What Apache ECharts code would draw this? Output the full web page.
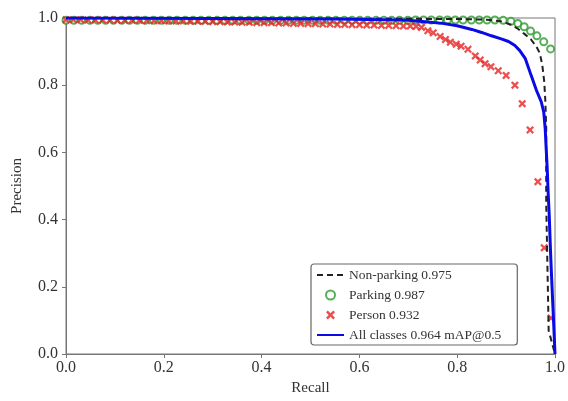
<!DOCTYPE html>
<html>
<head>
    <meta charset="utf-8" />
    <title>PR curve</title>
    <style>
        html, body { margin: 0; padding: 0; background: #fff; }
        #main { width: 568px; height: 401px; }
    </style>
</head>
<body>
<div id="main"></div>
<script src="https://cdn.jsdelivr.net/npm/echarts@6/dist/echarts.min.js"></script>
<script>
    // tick labels of both axes
    var ticks = [0.0, 0.2, 0.4, 0.6, 0.8, 1.0];
    var legendNames = ['Non-parking 0.975', 'Parking 0.987', 'Person 0.932', 'All classes 0.964 mAP@0.5'];

    // Non-parking (dashed black)
    var nonParkingRecall    = [0, 0.3, 0.6, 0.8, 0.86, 0.89, 0.91, 0.924, 0.938, 0.951, 0.962, 0.969, 0.974, 0.978, 0.980, 0.982, 0.982, 0.982, 0.984, 0.986, 0.987, 1.0];
    var nonParkingPrecision = [1.0, 0.999, 0.998, 0.997, 0.995, 0.990, 0.980, 0.968, 0.952, 0.936, 0.915, 0.895, 0.860, 0.810, 0.760, 0.675, 0.550, 0.450, 0.300, 0.150, 0.070, 0.0];

    // Parking (green circles)
    var parkingRecall = [0.000, 0.016, 0.032, 0.049, 0.065, 0.081, 0.097, 0.114, 0.130, 0.146, 0.162, 0.179, 0.195, 0.211, 0.227, 0.244,
        0.260, 0.276, 0.292, 0.309, 0.325, 0.341, 0.357, 0.374, 0.390, 0.406, 0.422, 0.439, 0.455, 0.471, 0.487, 0.504,
        0.520, 0.536, 0.552, 0.569, 0.585, 0.601, 0.617, 0.634, 0.650, 0.666, 0.682, 0.699, 0.715, 0.731, 0.747, 0.764,
        0.780, 0.796, 0.812, 0.829, 0.845, 0.861, 0.877, 0.894, 0.910, 0.924, 0.937, 0.950, 0.963, 0.977, 0.991];
    var parkingPrecision = [0.993, 0.993, 0.993, 0.993, 0.993, 0.993, 0.993, 0.993, 0.993, 0.993, 0.993, 0.993, 0.993, 0.993, 0.993, 0.993,
        0.993, 0.993, 0.993, 0.993, 0.993, 0.993, 0.993, 0.993, 0.993, 0.993, 0.993, 0.993, 0.993, 0.993, 0.993, 0.993,
        0.993, 0.993, 0.993, 0.993, 0.993, 0.993, 0.993, 0.993, 0.993, 0.993, 0.993, 0.993, 0.994, 0.994, 0.994, 0.994,
        0.994, 0.994, 0.994, 0.994, 0.994, 0.994, 0.994, 0.993, 0.990, 0.984, 0.974, 0.961, 0.947, 0.929, 0.908];

    // Person (red crosses)
    var personRecall = [0.000, 0.015, 0.030, 0.045, 0.060, 0.075, 0.090, 0.105, 0.120, 0.135, 0.150, 0.165, 0.180, 0.195, 0.210, 0.225,
        0.240, 0.255, 0.270, 0.285, 0.300, 0.315, 0.330, 0.345, 0.360, 0.375, 0.390, 0.405, 0.420, 0.435, 0.450, 0.465,
        0.480, 0.495, 0.510, 0.525, 0.540, 0.555, 0.570, 0.585, 0.600, 0.615, 0.630, 0.645, 0.660, 0.675, 0.690, 0.704,
        0.716, 0.727, 0.740, 0.751, 0.765, 0.776, 0.786, 0.798, 0.808, 0.822, 0.837, 0.847, 0.857, 0.869, 0.884, 0.900,
        0.918, 0.933, 0.949, 0.965, 0.978, 0.992];
    var personPrecision = [0.995, 0.995, 0.995, 0.994, 0.994, 0.994, 0.994, 0.993, 0.993, 0.993, 0.993, 0.992, 0.992, 0.992, 0.991, 0.991,
        0.991, 0.990, 0.990, 0.990, 0.989, 0.989, 0.988, 0.988, 0.987, 0.987, 0.986, 0.986, 0.986, 0.985, 0.985, 0.984,
        0.984, 0.983, 0.983, 0.982, 0.982, 0.981, 0.981, 0.980, 0.980, 0.979, 0.979, 0.978, 0.978, 0.977, 0.976, 0.976,
        0.975, 0.972, 0.962, 0.956, 0.945, 0.936, 0.928, 0.922, 0.916, 0.907, 0.887, 0.875, 0.864, 0.855, 0.843, 0.829,
        0.800, 0.745, 0.667, 0.513, 0.316, 0.107];

    // All classes (blue)
    var allRecall    = [0, 0.2, 0.4, 0.55, 0.65, 0.70, 0.74, 0.77, 0.80, 0.83, 0.85, 0.87, 0.89, 0.905, 0.918, 0.928, 0.939, 0.951, 0.962, 0.972, 0.977, 0.980, 0.982, 0.984, 0.986, 0.988, 0.991, 0.993, 0.997, 1.0];
    var allPrecision = [1.0, 0.999, 0.998, 0.997, 0.995, 0.993, 0.988, 0.984, 0.977, 0.966, 0.957, 0.947, 0.938, 0.930, 0.918, 0.903, 0.880, 0.830, 0.785, 0.750, 0.720, 0.670, 0.610, 0.555, 0.480, 0.420, 0.300, 0.230, 0.100, 0.0];

    function pairs(xs, ys) {
        var out = [];
        for (var i = 0; i < xs.length; i++) out.push([xs[i], ys[i]]);
        return out;
    }

    var serif = 'Liberation Serif';
    var crossPath = 'path://M0,2L2,0L5,3L8,0L10,2L7,5L10,8L8,10L5,7L2,10L0,8L3,5Z';

    var chart = echarts.init(document.getElementById('main'));
    chart.setOption({
        animation: false,
        grid: { left: 66, right: 11, top: 18, bottom: 38, show: true, borderColor: '#777', borderWidth: 1 },
        xAxis: {
            type: 'value', min: 0, max: 1, interval: 0.2,
            name: 'Recall', nameLocation: 'middle', nameGap: 27,
            nameTextStyle: { fontFamily: serif, fontSize: 15, color: '#333' },
            axisLine: { lineStyle: { color: '#777' } },
            axisTick: { show: true, length: 4, lineStyle: { color: '#777' } },
            axisLabel: { fontFamily: serif, fontSize: 16, color: '#333', margin: 6,
                formatter: function (v) { return v.toFixed(1); } },
            splitLine: { show: false }
        },
        yAxis: {
            type: 'value', min: 0, max: 1, interval: 0.2,
            name: 'Precision', nameLocation: 'middle', nameGap: 41, nameRotate: 90,
            nameTextStyle: { fontFamily: serif, fontSize: 15, color: '#333' },
            axisLine: { show: true, lineStyle: { color: '#777' } },
            axisTick: { show: true, length: 4, lineStyle: { color: '#777' } },
            axisLabel: { fontFamily: serif, fontSize: 16, color: '#333', margin: 8,
                formatter: function (v) { return v.toFixed(1); } },
            splitLine: { show: false }
        },
        legend: {
            orient: 'vertical', left: 311, top: 264,
            data: legendNames,
            itemWidth: 27, itemHeight: 9, itemGap: 6,
            padding: [4, 16, 3, 5],
            backgroundColor: '#fff', borderColor: '#666', borderWidth: 1.2, borderRadius: 3,
            textStyle: { fontFamily: serif, fontSize: 13.5, color: '#333' }
        },
        series: [
            {
                name: legendNames[0], type: 'line', data: pairs(nonParkingRecall, nonParkingPrecision),
                symbol: 'none', lineStyle: { color: '#222', width: 2, type: [6, 4] },
                itemStyle: { color: 'rgba(0,0,0,0)' }
            },
            {
                name: legendNames[1], type: 'scatter', data: pairs(parkingRecall, parkingPrecision),
                symbol: 'emptyCircle', symbolSize: 7, clip: false,
                itemStyle: { color: '#2e9a2e', borderColor: '#2e9a2e', borderWidth: 1.8 }
            },
            {
                name: legendNames[2], type: 'scatter', data: pairs(personRecall, personPrecision),
                symbol: crossPath, symbolSize: 8, clip: false,
                itemStyle: { color: '#e82222' }
            },
            {
                name: legendNames[3], type: 'line', data: pairs(allRecall, allPrecision),
                symbol: 'none', lineStyle: { color: '#0a0ae6', width: 3 },
                itemStyle: { color: 'rgba(0,0,0,0)' }
            }
        ]
    });
</script>
</body>
</html>
